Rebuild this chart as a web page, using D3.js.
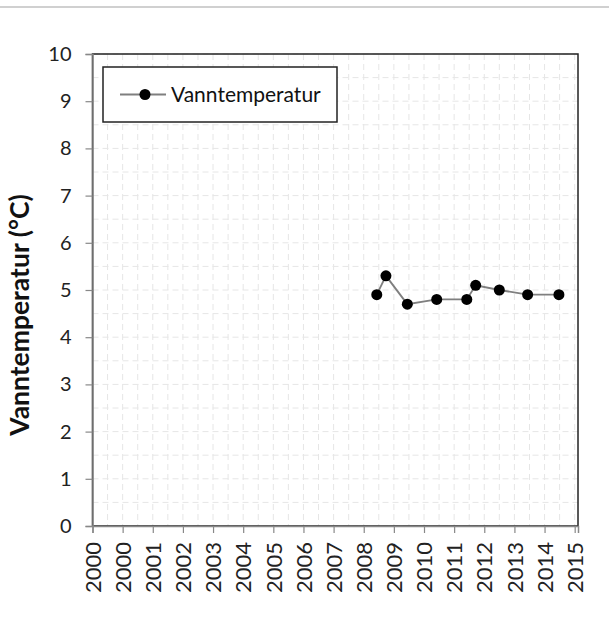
<!DOCTYPE html>
<html><head><meta charset="utf-8">
<script src="https://cdn.jsdelivr.net/npm/d3@7"></script>
<style>body{margin:0;background:#fff}svg{display:block}</style>
</head><body>
<svg id="c" width="609" height="641"></svg>
<script>
const dates = ["2009-06-05","2009-09-24","2010-06-10","2011-06-01","2012-05-30","2012-09-15","2013-06-28","2014-06-06","2015-06-20"];
const temps = [4.9, 5.3, 4.7, 4.8, 4.8, 5.1, 5.0, 4.9, 4.9];
const xTickLabels = ["2000","2000","2001","2002","2003","2004","2005","2006","2007","2008","2009","2010","2011","2012","2013","2014","2015"];
const yTicks = [0,1,2,3,4,5,6,7,8,9,10];
const seriesName = "Vanntemperatur";
const yTitle = "Vanntemperatur (°C)";

const svg = d3.select("#c");
const L = 92.5, R = 578, T = 54, B = 526;
const start = new Date(2000,0,1);
const day = 86400000;
const xTickDates = xTickLabels.map((d,i)=> new Date(start.getTime() + i*365*day));
const endDate = new Date(start.getTime() + 16.11*365*day);
const x = d3.scaleTime().domain([start, endDate]).range([L, R]);
const y = d3.scaleLinear().domain([0,10]).range([B, T]);
const font = "Lato, 'Open Sans', sans-serif";

// top page line
svg.append("line").attr("x1",0).attr("x2",609).attr("y1",7).attr("y2",7).attr("stroke","#d0d0d0").attr("stroke-width",2);

// grid
const g = svg.append("g");
const hVals = d3.range(0, 10.01, 0.5);
g.selectAll(".h").data(hVals).enter().append("line")
  .attr("x1",L).attr("x2",R).attr("y1",d=>y(d)).attr("y2",d=>y(d))
  .attr("stroke","#e6e6e6").attr("stroke-dasharray","6,4").attr("stroke-width",1);
const vDates = [];
xTickDates.forEach((d,i)=>{ vDates.push(d); vDates.push(new Date(d.getTime()+182.5*day)); });
g.selectAll(".v").data(vDates.filter(d=>x(d)<R-2 && x(d)>L+2)).enter().append("line")
  .attr("x1",d=>x(d)).attr("x2",d=>x(d)).attr("y1",T).attr("y2",B)
  .attr("stroke","#e6e6e6").attr("stroke-dasharray","6,4").attr("stroke-width",1);

// plot border
svg.append("rect").attr("x",L).attr("y",T).attr("width",R-L).attr("height",B-T)
  .attr("fill","none").attr("stroke","#222").attr("stroke-width",1.5);

// axes
const yAxis = d3.axisLeft(y).tickValues(yTicks).tickSize(7).tickPadding(14).tickFormat(d3.format("d"));
const ya = svg.append("g").attr("transform",`translate(${L},0)`).call(yAxis);
ya.select(".domain").attr("stroke","#888").attr("stroke-width",1.5);
ya.selectAll(".tick line").attr("stroke","#888").attr("stroke-width",1.2);
ya.selectAll("text").attr("font-family",font).attr("font-size",20).attr("fill","#222");

const xAxis = d3.axisBottom(x).tickValues(xTickDates).tickSize(7).tickFormat((d,i)=>xTickLabels[i]);
const xa = svg.append("g").attr("transform",`translate(0,${B})`).call(xAxis);
xa.select(".domain").attr("stroke","#888").attr("stroke-width",1.5);
xa.selectAll(".tick line").attr("stroke","#888").attr("stroke-width",1.2);
xa.selectAll("text").attr("font-family",font).attr("font-size",22).attr("fill","#222")
  .attr("transform","rotate(-90)").attr("text-anchor","end").attr("dx","-16").attr("dy","0.35em").attr("x",0).attr("y",0);

// y title
svg.append("text").attr("transform",`translate(29,315) rotate(-90)`)
  .attr("text-anchor","middle").attr("font-family",font).attr("font-weight","bold")
  .attr("font-size",26.5).attr("fill","#111").text(yTitle);

// series
const pts = dates.map((d,i)=>({d:new Date(d), v:temps[i]}));
svg.append("path").datum(pts).attr("fill","none").attr("stroke","#7f7f7f").attr("stroke-width",1.8)
  .attr("d", d3.line().x(p=>x(p.d)).y(p=>y(p.v)));
svg.selectAll(".pt").data(pts).enter().append("circle")
  .attr("cx",p=>x(p.d)).attr("cy",p=>y(p.v)).attr("r",5.5).attr("fill","#000");

// legend
const lg = svg.append("g");
lg.append("rect").attr("x",103).attr("y",67).attr("width",234).attr("height",55)
  .attr("fill","#fff").attr("stroke","#222").attr("stroke-width",1.5);
lg.append("line").attr("x1",120).attr("x2",166).attr("y1",94.5).attr("y2",94.5).attr("stroke","#7f7f7f").attr("stroke-width",1.8);
lg.append("circle").attr("cx",145).attr("cy",94.5).attr("r",5.5).attr("fill","#000");
lg.append("text").attr("x",171).attr("y",94.5).attr("dy","0.36em").attr("font-family",font)
  .attr("font-size",21).attr("fill","#111").text(seriesName);
</script>
</body></html>
